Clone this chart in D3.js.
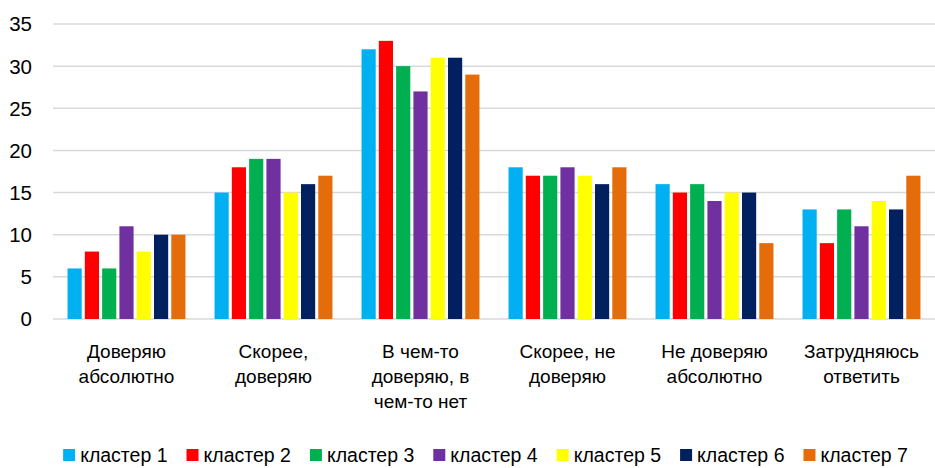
<!DOCTYPE html>
<html>
<head>
<meta charset="utf-8">
<script src="https://cdn.jsdelivr.net/npm/d3@7"></script>
<style>
  body { margin: 0; background: #fff; }
  svg { font-family: "Liberation Sans", Arial, sans-serif; }
</style>
</head>
<body>
<svg id="chart" width="935" height="468"></svg>
<script>
const categories = [
  ["Доверяю", "абсолютно"],
  ["Скорее,", "доверяю"],
  ["В чем-то", "доверяю, в", "чем-то нет"],
  ["Скорее, не", "доверяю"],
  ["Не доверяю", "абсолютно"],
  ["Затрудняюсь", "ответить"]
];
const seriesNames = ["кластер 1", "кластер 2", "кластер 3", "кластер 4", "кластер 5", "кластер 6", "кластер 7"];
const cluster1 = [6, 15, 32, 18, 16, 13];
const cluster2 = [8, 18, 33, 17, 15, 9];
const cluster3 = [6, 19, 30, 17, 16, 13];
const cluster4 = [11, 19, 27, 18, 14, 11];
const cluster5 = [8, 15, 31, 17, 15, 14];
const cluster6 = [10, 16, 31, 16, 15, 13];
const cluster7 = [10, 17, 29, 18, 9, 17];
const yTicks = [0, 5, 10, 15, 20, 25, 30, 35];
const colors = ["#00B0F0", "#FF0000", "#00B050", "#7030A0", "#FFFF00", "#002060", "#E46C0A"];

const allSeries = [cluster1, cluster2, cluster3, cluster4, cluster5, cluster6, cluster7];
const margin = { top: 24, right: 0, bottom: 149, left: 53 };
const width = 935 - margin.left - margin.right;
const height = 468 - margin.top - margin.bottom;

const svg = d3.select("#chart");
const g = svg.append("g").attr("transform", `translate(${margin.left},${margin.top})`);

const x0 = d3.scaleBand().domain(d3.range(categories.length)).range([0, width]);
const x1 = d3.scaleBand().domain(d3.range(seriesNames.length))
  .range([0, x0.bandwidth()]).paddingInner(0.18).paddingOuter(0.84);
const y = d3.scaleLinear().domain([0, 35]).range([height, 0]);

// gridlines
g.selectAll(".grid")
  .data(yTicks)
  .enter()
  .append("line")
  .attr("x1", 0)
  .attr("x2", width)
  .attr("y1", d => y(d))
  .attr("y2", d => y(d))
  .attr("stroke", "#d9d9d9")
  .attr("stroke-width", 1.5);

// y labels
g.selectAll(".ytick")
  .data(yTicks)
  .enter()
  .append("text")
  .attr("x", -21)
  .attr("y", d => y(d))
  .attr("dy", "0.36em")
  .attr("text-anchor", "end")
  .style("font-size", "20.5px")
  .attr("fill", "#000")
  .text(d => d);

// bars
allSeries.forEach((vals, s) => {
  g.selectAll(`.bar-${s}`)
    .data(vals)
    .enter()
    .append("rect")
    .attr("x", (d, i) => x0(i) + x1(s))
    .attr("y", d => y(d))
    .attr("width", x1.bandwidth())
    .attr("height", d => height - y(d))
    .attr("fill", colors[s]);
});

// category labels
categories.forEach((lines, i) => {
  const t = g.append("text")
    .attr("text-anchor", "middle")
    .style("font-size", "19px")
    .attr("fill", "#000");
  lines.forEach((line, j) => {
    t.append("tspan")
      .attr("x", x0(i) + x0.bandwidth() / 2)
      .attr("y", height + 39 + j * 25)
      .text(line);
  });
});

// legend
const legend = svg.append("g");
let lx = 0;
seriesNames.forEach((name, i) => {
  const item = legend.append("g").attr("transform", `translate(${lx},0)`);
  item.append("rect")
    .attr("x", 0)
    .attr("y", -6)
    .attr("width", 12)
    .attr("height", 12)
    .attr("fill", colors[i]);
  const txt = item.append("text")
    .attr("x", 17)
    .attr("y", 0)
    .attr("dy", "0.36em")
    .style("font-size", "19.5px")
    .attr("fill", "#000")
    .text(name);
  lx += 17 + txt.node().getComputedTextLength() + 19;
});
const legendWidth = lx - 19;
legend.attr("transform", `translate(${(935 - legendWidth) / 2 + 18},455)`);
</script>
</body>
</html>
